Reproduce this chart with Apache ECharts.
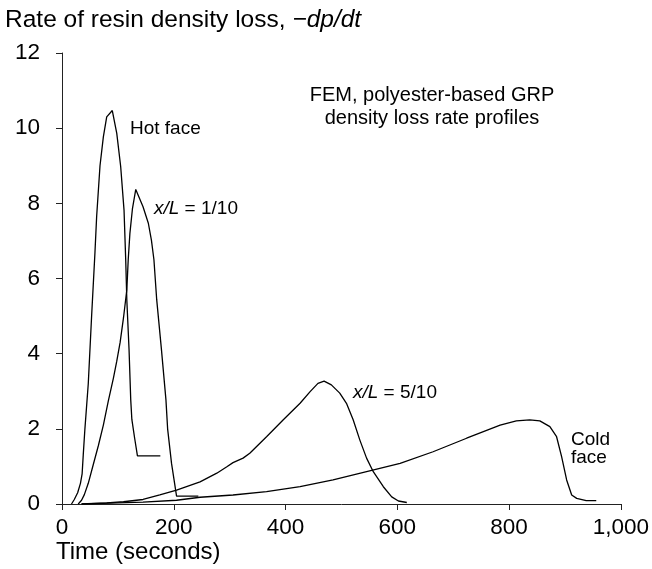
<!DOCTYPE html>
<html>
<head>
<meta charset="utf-8">
<script src="https://cdn.jsdelivr.net/npm/echarts@6/dist/echarts.min.js"></script>
<style>html,body{margin:0;padding:0;background:#fff}#c{width:652px;height:569px}</style>
</head>
<body>
<div id="c"></div>
<script>
// ---- Data (time in seconds, rate of density loss) ----
const hotT  = [17, 22, 28, 33, 36, 38, 41, 47, 53, 59, 62, 68, 74, 80, 90, 98, 105, 111, 114, 116, 120, 123, 125, 130, 135, 176];
const hotV  = [0, 0.12, 0.3, 0.55, 0.8, 1.3, 2.0, 3.2, 5.0, 6.7, 7.65, 9.0, 9.77, 10.3, 10.47, 9.86, 8.98, 7.82, 6.5, 5.43, 4.1, 2.77, 2.25, 1.75, 1.28, 1.28];

const x1T = [29, 35, 40, 47, 56, 65, 74, 83, 92, 98, 104, 110, 116, 118.5, 121.5, 126, 132, 145, 154.5, 160, 164.5, 169.5, 178, 186, 189, 196, 205, 244];
const x1V = [0, 0.1, 0.25, 0.55, 1.05, 1.55, 2.1, 2.75, 3.35, 3.8, 4.3, 4.95, 5.7, 6.5, 7.2, 7.85, 8.37, 7.91, 7.47, 7.02, 6.5, 5.43, 4.1, 2.77, 2.0, 1.08, 0.21, 0.21];

const x5T = [35, 80, 110, 145, 175, 205, 247, 277, 295, 306, 324, 336, 366, 396, 426, 444, 458, 469, 482, 497, 509, 521, 533, 545, 557, 575, 590, 602, 617];
const x5V = [0, 0.03, 0.06, 0.12, 0.24, 0.37, 0.59, 0.82, 0.99, 1.1, 1.22, 1.35, 1.79, 2.24, 2.68, 2.99, 3.21, 3.27, 3.17, 2.95, 2.68, 2.24, 1.70, 1.22, 0.86, 0.46, 0.19, 0.08, 0.04];

const coldT = [35, 100, 145, 205, 247, 306, 366, 426, 485, 545, 605, 664, 724, 784, 813, 837, 855, 873, 885, 894, 903, 912, 921, 938, 956];
const coldV = [0, 0.03, 0.05, 0.1, 0.18, 0.24, 0.33, 0.46, 0.64, 0.86, 1.08, 1.39, 1.75, 2.10, 2.21, 2.24, 2.21, 2.06, 1.79, 1.26, 0.64, 0.24, 0.15, 0.09, 0.09];

const xTicks = [0, 200, 400, 600, 800, 1000];
const yTicks = [0, 2, 4, 6, 8, 10, 12];

const FONT = 'Liberation Sans, Arial, Helvetica, sans-serif';
const zip = (t, v) => t.map((x, i) => [x, v[i]]);

const chart = echarts.init(document.getElementById('c'), null, {renderer: 'canvas'});
const lineSeries = (name, t, v) => ({
  name, type: 'line', data: zip(t, v), showSymbol: false, symbol: 'none',
  smooth: false, lineStyle: {color: '#000', width: 1.3}, silent: true, animation: false
});
const ann = {fontSize: 19, fontFamily: FONT, fill: '#000'};
const annI = {fontSize: 19, fontFamily: FONT, fontStyle: 'italic', fill: '#000'};

chart.setOption({
  animation: false,
  backgroundColor: '#fff',
  grid: {left: 62, right: 31, top: 53, bottom: 65, containLabel: false},
  xAxis: {
    type: 'value', min: xTicks[0], max: xTicks[xTicks.length - 1], interval: 200,
    axisLine: {show: true, lineStyle: {color: '#222', width: 1}},
    axisTick: {show: true, length: 6, lineStyle: {color: '#222'}},
    axisLabel: {color: '#000', fontSize: 22.5, fontFamily: FONT, margin: 12,
      formatter: v => v.toLocaleString('en-US')},
    splitLine: {show: false}
  },
  yAxis: {
    type: 'value', min: yTicks[0], max: yTicks[yTicks.length - 1], interval: 2, offset: 10,
    axisLine: {show: true, lineStyle: {color: '#222', width: 1}},
    axisTick: {show: true, length: 6, lineStyle: {color: '#222'}},
    axisLabel: {color: '#000', fontSize: 22.5, fontFamily: FONT, margin: 12},
    splitLine: {show: false}
  },
  series: [
    lineSeries('Hot face', hotT, hotV),
    lineSeries('x/L = 1/10', x1T, x1V),
    lineSeries('x/L = 5/10', x5T, x5V),
    lineSeries('Cold face', coldT, coldV)
  ],
  graphic: [
    {type: 'text', left: 5, top: 8, style: {
      text: '{n|Rate of resin density loss, }{i|\u2212dp/dt}', fill: '#000',
      rich: {n: {fontSize: 24.5, fontFamily: FONT, fill: '#000'}, i: {fontSize: 24.5, fontFamily: FONT, fontStyle: 'italic', fill: '#000'}}
    }},
    {type: 'text', left: 56, top: 540, style: {text: 'Time (seconds)', fontSize: 24, fontFamily: FONT, fill: '#000'}},
    {type: 'text', x: 432, y: 84, style: {text: 'FEM, polyester-based GRP\ndensity loss rate profiles', fontSize: 20, lineHeight: 23, fontFamily: FONT, fill: '#000', align: 'center'}},
    {type: 'text', x: 130, y: 119, style: Object.assign({text: 'Hot face'}, ann)},
    {type: 'text', x: 154, y: 199, style: {text: '{i|x/L}{n| = 1/10}', rich: {i: annI, n: ann}}},
    {type: 'text', x: 353, y: 383, style: {text: '{i|x/L}{n| = 5/10}', rich: {i: annI, n: ann}}},
    {type: 'text', x: 571, y: 431, style: Object.assign({text: 'Cold\nface', lineHeight: 18}, ann)}
  ]
});
</script>
</body>
</html>
